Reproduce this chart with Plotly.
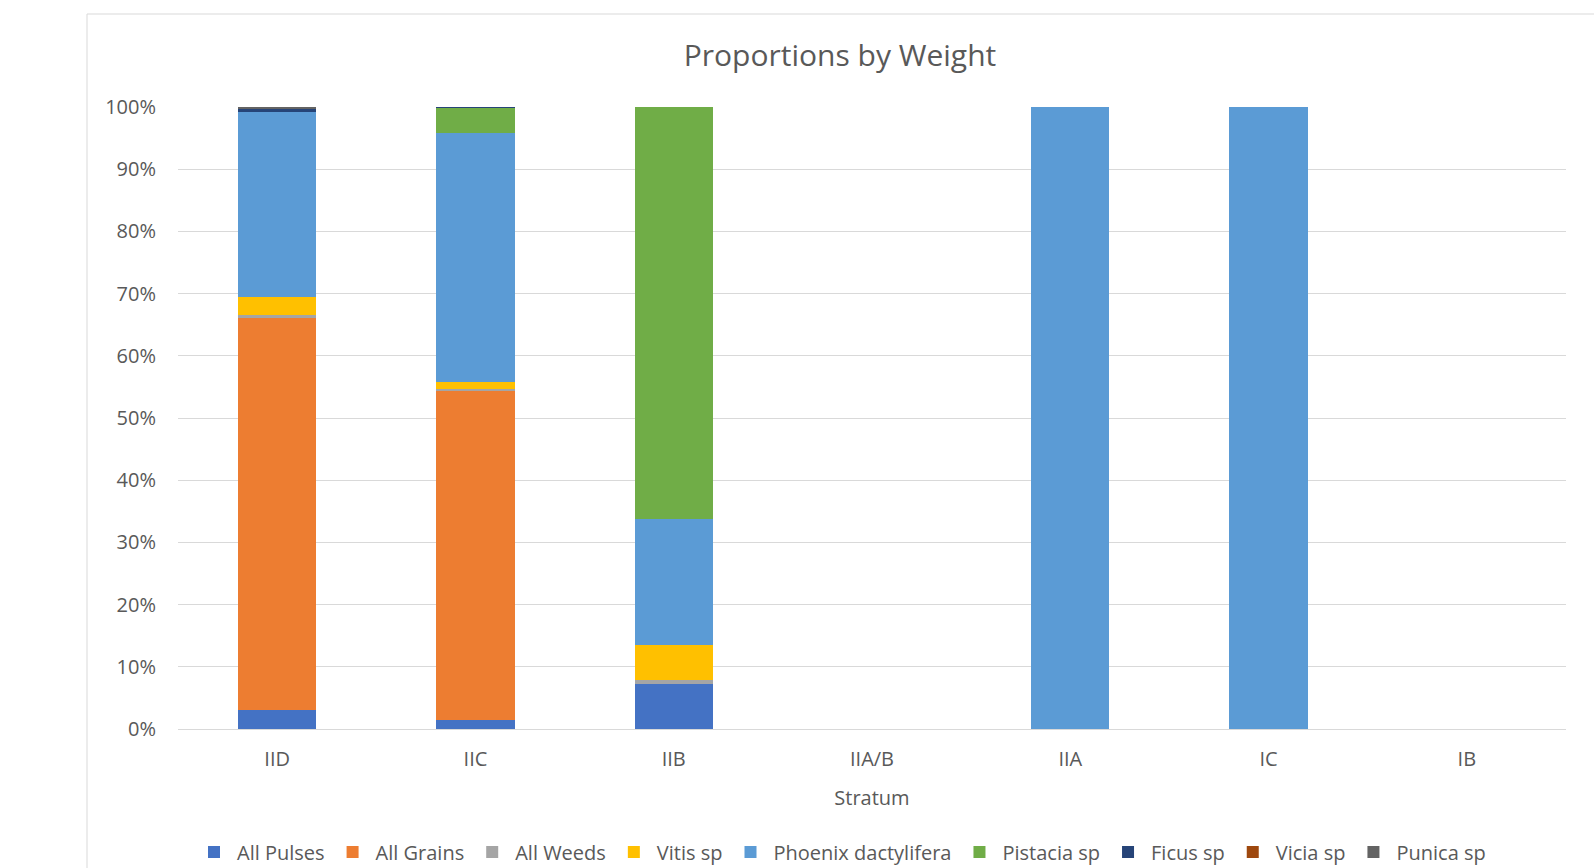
import plotly.graph_objects as go

strata = ["IID", "IIC", "IIB", "IIA/B", "IIA", "IC", "IB"]

series_names = ["All Pulses", "All Grains", "All Weeds", "Vitis sp", "Phoenix dactylifera",
                "Pistacia sp", "Ficus sp", "Vicia sp", "Punica sp"]
series_colors = ["#4472C4", "#ED7D31", "#A5A5A5", "#FFC000", "#5B9BD5",
                 "#70AD47", "#264478", "#9E480E", "#636363"]

# proportions (%) per stratum, order follows strata
all_pulses = [3.0, 1.5, 7.3, 0, 0, 0, 0]
all_grains = [63.0, 53.0, 0, 0, 0, 0, 0]
all_weeds = [0.5, 0.2, 0.5, 0, 0, 0, 0]
vitis = [3.0, 1.1, 5.7, 0, 0, 0, 0]
phoenix = [29.8, 40.1, 20.2, 0, 100.0, 100.0, 0]
pistacia = [0, 4.0, 66.3, 0, 0, 0, 0]
ficus = [0.3, 0.1, 0, 0, 0, 0, 0]
vicia = [0, 0, 0, 0, 0, 0, 0]
punica = [0.4, 0, 0, 0, 0, 0, 0]

series_values = [all_pulses, all_grains, all_weeds, vitis, phoenix,
                 pistacia, ficus, vicia, punica]

y_ticks = [0, 10, 20, 30, 40, 50, 60, 70, 80, 90, 100]
y_tick_labels = [f"{t}%" for t in y_ticks]

FONT = "'Open Sans', Lato, sans-serif"
GREY = "#595959"

fig = go.Figure()
for name, color, vals in zip(series_names, series_colors, series_values):
    fig.add_trace(go.Bar(
        name=name, x=strata, y=[v / 100 for v in vals],
        marker=dict(color=color, line=dict(width=0)),
    ))

fig.update_layout(
    barmode="stack",
    bargap=0.605,
    width=1594, height=868,
    margin=dict(l=178, r=28, t=107, b=139),
    paper_bgcolor="white", plot_bgcolor="white",
    font=dict(family=FONT, color=GREY, size=20),
    title=dict(text="Proportions by Weight", x=840 / 1594, xanchor="center",
               xref="container", y=1 - 55 / 868, yanchor="middle", yref="container",
               font=dict(size=30, color=GREY, family=FONT)),
    showlegend=True,
    legend=dict(orientation="h", xref="container", yref="container",
                x=191 / 1594, xanchor="left", y=16 / 868, yanchor="middle",
                font=dict(size=20, color=GREY, family=FONT),
                traceorder="normal", itemwidth=36),
    shapes=[dict(type="rect", xref="paper", yref="paper",
                 x0=(87 - 178) / 1388, x1=1.2, y0=-0.5, y1=(729 - 14) / 622,
                 line=dict(color="#d9d9d9", width=1), fillcolor="rgba(0,0,0,0)",
                 layer="below")],
)

fig.update_xaxes(
    showgrid=False, showline=True, linecolor="#d9d9d9", linewidth=1,
    ticks="", tickfont=dict(size=20, color=GREY), ticklabelstandoff=12,
    title=dict(text="Stratum", font=dict(size=20, color=GREY), standoff=19),
    automargin=True,
)
fig.update_yaxes(
    range=[0, 1], tickvals=[t / 100 for t in y_ticks], ticktext=y_tick_labels,
    showgrid=True, gridcolor="#d9d9d9", gridwidth=1, zeroline=False,
    showline=False, tickfont=dict(size=20, color=GREY), ticklabelstandoff=21,
    automargin=False,
)

fig.write_html("out.html")
